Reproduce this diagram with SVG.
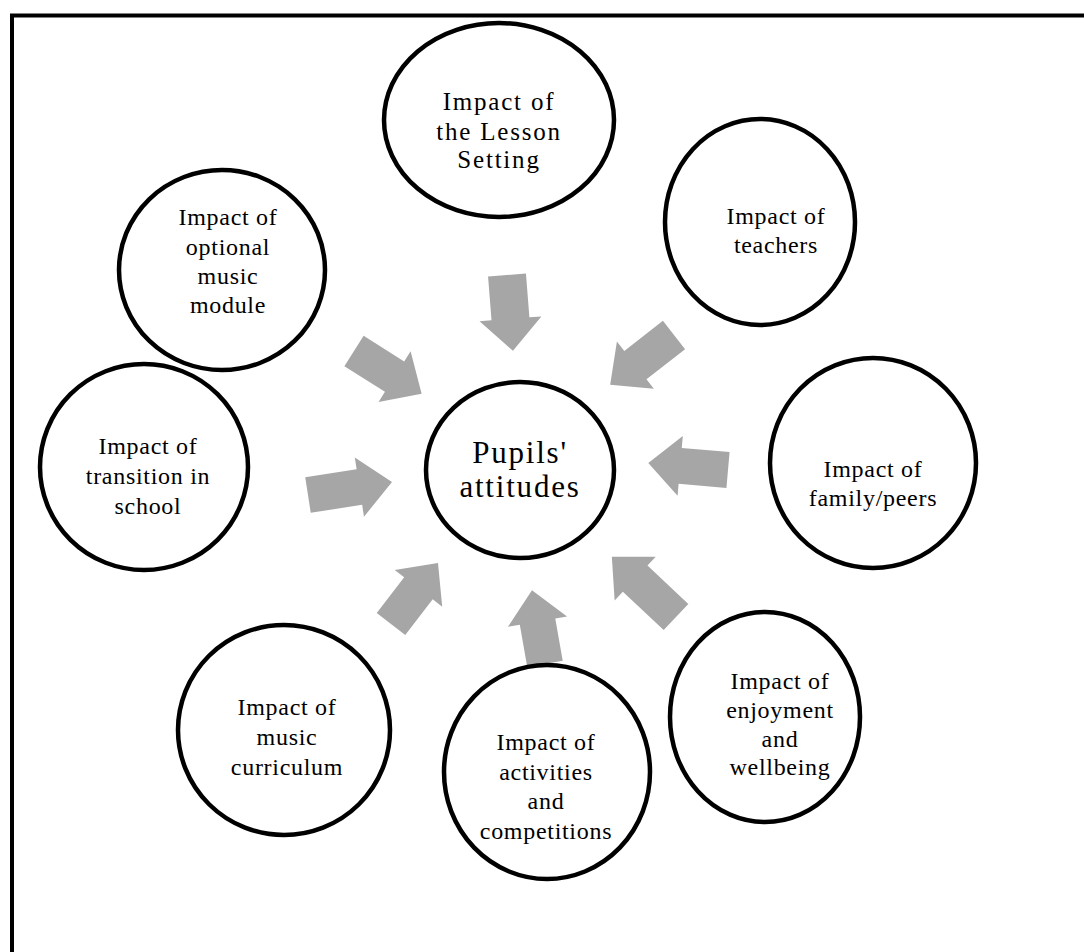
<svg xmlns="http://www.w3.org/2000/svg" width="1084" height="952" viewBox="0 0 1084 952">
<style>
.node ellipse{fill:#fff;stroke:#000;stroke-width:4.5}
.node text{font-family:"Liberation Serif","Times New Roman",serif;font-size:24px;letter-spacing:0.7px;text-anchor:middle;fill:#000}
.arr{fill:#A6A6A6}
.frame{stroke:#000;stroke-width:4;fill:none}
</style>
<rect width="1084" height="952" fill="#fff"/>
<path class="frame" d="M12,952 V15.5 H1084"/>
<g id="connectors">
<polygon class="arr" transform="translate(507,275) rotate(85.5)" points="0,-19 44,-19 44,-31 76,0 44,31 44,19 0,19"/>
<polygon class="arr" transform="translate(354,351) rotate(32.3)" points="0,-18 48,-18 48,-30 80,0 48,30 48,18 0,18"/>
<polygon class="arr" transform="translate(674,335) rotate(142)" points="0,-18 49,-18 49,-30 81,0 49,30 49,18 0,18"/>
<polygon class="arr" transform="translate(728,470) rotate(185)" points="0,-18 48,-18 48,-30 80,0 48,30 48,18 0,18"/>
<polygon class="arr" transform="translate(308,495) rotate(-8.8)" points="0,-18 52,-18 52,-30 85,0 52,30 52,18 0,18"/>
<polygon class="arr" transform="translate(391,624) rotate(-52.4)" points="0,-18 45,-18 45,-30 77,0 45,30 45,18 0,18"/>
<polygon class="arr" transform="translate(545,664) rotate(-100)" points="0,-18 43,-18 43,-30 75,0 43,30 43,18 0,18"/>
<polygon class="arr" transform="translate(676,617) rotate(-136.8)" points="0,-18 56,-18 56,-30 88,0 56,30 56,18 0,18"/>
</g>
<g id="center" class="node">
<ellipse cx="520" cy="470" rx="94" ry="88"/>
<text x="520" y="463" style="font-size:31px;letter-spacing:1.8px">Pupils'</text>
<text x="520" y="497" style="font-size:31px;letter-spacing:1.8px">attitudes</text>
</g>
<g id="lesson" class="node">
<ellipse cx="499" cy="120" rx="115" ry="97"/>
<text x="499" y="110" style="font-size:25px;letter-spacing:1.8px">Impact of</text>
<text x="499" y="140" style="font-size:25px;letter-spacing:1.8px">the Lesson</text>
<text x="499" y="168" style="font-size:25px;letter-spacing:1.8px">Setting</text>
</g>
<g id="teachers" class="node">
<ellipse cx="760" cy="222" rx="95" ry="103"/>
<text x="776" y="224">Impact of</text>
<text x="776" y="253">teachers</text>
</g>
<g id="optional" class="node">
<ellipse cx="222" cy="270" rx="103" ry="100"/>
<text x="228" y="225">Impact of</text>
<text x="228" y="255">optional</text>
<text x="228" y="284">music</text>
<text x="228" y="313">module</text>
</g>
<g id="family" class="node">
<ellipse cx="873" cy="463" rx="103" ry="105"/>
<text x="873" y="477">Impact of</text>
<text x="873" y="506">family/peers</text>
</g>
<g id="transition" class="node">
<ellipse cx="144" cy="467" rx="104" ry="103"/>
<text x="148" y="454">Impact of</text>
<text x="148" y="484">transition in</text>
<text x="148" y="514">school</text>
</g>
<g id="enjoyment" class="node">
<ellipse cx="765" cy="717" rx="95" ry="105"/>
<text x="780" y="689">Impact of</text>
<text x="780" y="718">enjoyment</text>
<text x="780" y="747">and</text>
<text x="780" y="775">wellbeing</text>
</g>
<g id="curriculum" class="node">
<ellipse cx="284" cy="730" rx="106" ry="105"/>
<text x="287" y="715">Impact of</text>
<text x="287" y="745">music</text>
<text x="287" y="775">curriculum</text>
</g>
<g id="activities" class="node">
<ellipse cx="547" cy="772" rx="103" ry="107"/>
<text x="546" y="750">Impact of</text>
<text x="546" y="780">activities</text>
<text x="546" y="809">and</text>
<text x="546" y="839">competitions</text>
</g>
</svg>
